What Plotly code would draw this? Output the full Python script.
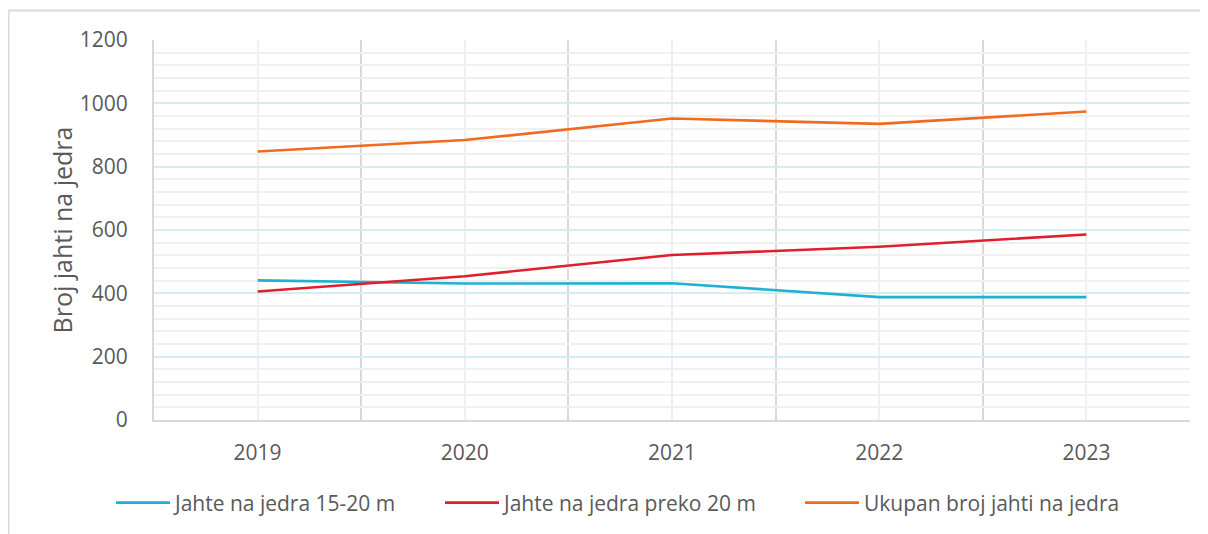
import plotly.graph_objects as go

years = ["2019", "2020", "2021", "2022", "2023"]
yachts_15_20 = [441, 431, 432, 388, 388]
yachts_over_20 = [406, 454, 521, 547, 586]
yachts_total = [848, 884, 952, 935, 974]

series = [
    ("Jahte na jedra 15-20 m", yachts_15_20, "#1fb1d1"),
    ("Jahte na jedra preko 20 m", yachts_over_20, "#e01f2e"),
    ("Ukupan broj jahti na jedra", yachts_total, "#f06b20"),
]

x_idx = list(range(len(years)))
FONT = "Open Sans, Lato, sans-serif"
TXT = "#595959"

legend_ids = ["legend", "legend2", "legend3"]

fig = go.Figure()
for (name, vals, col), lid in zip(series, legend_ids):
    fig.add_trace(go.Scatter(x=x_idx, y=vals, name=name, mode="lines", legend=lid,
                             line=dict(color=col, width=2.6)))

# page has an 8px body margin; figure coordinates below are page - 8
W, H = 1192, 526
L, R, T, B = 146, 1182, 32, 412
pw, ph = R - L, B - T

# legend text start positions (figure px)
text_starts = [169, 498, 858]
leg_y = (B - 495) / ph
legends = {}
for lid, ts in zip(legend_ids, text_starts):
    legends[lid] = dict(orientation="h", x=(ts - 66 - L) / pw, xanchor="left",
                        y=leg_y, yanchor="middle", bgcolor="rgba(0,0,0,0)",
                        itemwidth=54,
                        font=dict(size=21, color=TXT, family=FONT))

fig.update_layout(
    width=W, height=H,
    margin=dict(l=L, r=W - R, t=T, b=H - B, autoexpand=False),
    paper_bgcolor="white", plot_bgcolor="white",
    font=dict(family=FONT, color=TXT, size=21),
    showlegend=True,
    **legends,
    xaxis=dict(range=[-0.5, 4.5], tickvals=x_idx, ticktext=years,
               showgrid=True, gridcolor="#f0f0f0", gridwidth=2,
               minor=dict(tickvals=[-0.5, 0.5, 1.5, 2.5, 3.5, 4.5], showgrid=True,
                          gridcolor="#d9d9d9", gridwidth=2, ticks=""),
               showline=True, linecolor="#d9d9d9", linewidth=2,
               zeroline=False, ticks="", ticklabelstandoff=13,
               tickfont=dict(size=21, color=TXT), fixedrange=True),
    yaxis=dict(range=[0, 1200], dtick=200, tick0=0,
               showgrid=True, gridcolor="#d6ecf3", gridwidth=2,
               minor=dict(dtick=40, showgrid=True, gridcolor="#f0f0f0", gridwidth=2, ticks=""),
               showline=True, linecolor="#d9d9d9", linewidth=2,
               zeroline=False, ticks="", ticklabelstandoff=20,
               tickfont=dict(size=21, color=TXT),
               title=dict(text="Broj jahti na jedra", font=dict(size=25, color=TXT), standoff=0),
               fixedrange=True),
)

# outer chart border (top and left edges visible in the crop)
bx0 = (0.5 - L) / pw
by0 = (B - 2.5) / ph
fig.add_shape(type="line", xref="paper", yref="paper", x0=bx0, x1=1.05, y0=by0, y1=by0,
              line=dict(color="#d9d9d9", width=2), layer="below")
fig.add_shape(type="line", xref="paper", yref="paper", x0=bx0, x1=bx0, y0=by0, y1=-0.4,
              line=dict(color="#d9d9d9", width=2), layer="below")

post = """
document.documentElement.style.overflow='hidden';
document.body.style.overflow='hidden';
document.querySelectorAll('.legendlines path').forEach(function(p){p.setAttribute('d','M5,0h54');});
"""

fig.write_html("out.html", post_script=post)
